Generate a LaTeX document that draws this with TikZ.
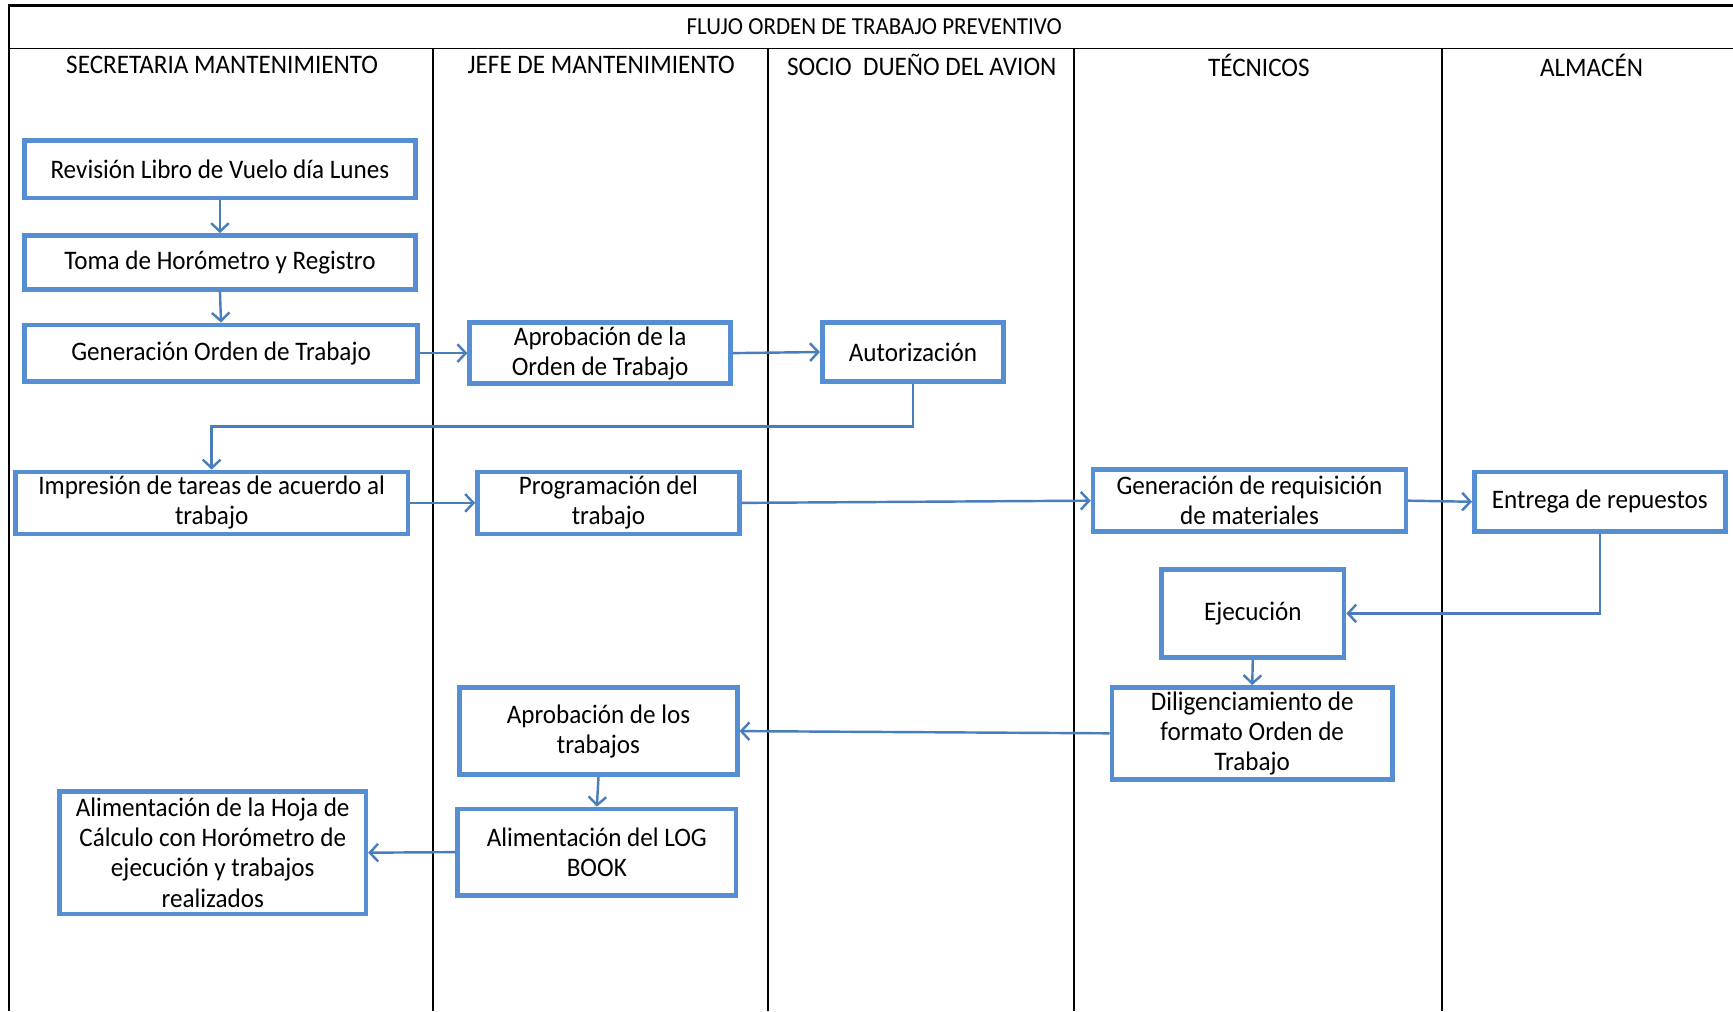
\documentclass[tikz,border=0pt]{standalone}
\usepackage{fontspec}
\setmainfont[FakeStretch=0.94]{Carlito}
\usetikzlibrary{arrows.meta}
\definecolor{boxblue}{RGB}{86,142,212}
\definecolor{lineblue}{RGB}{74,126,187}
\tikzset{
  box/.style={draw=boxblue, line width=4.2pt, fill=white, align=center, inner sep=2pt,
    font=\fontsize{24.2}{27.3}\selectfont},
  conn/.style={draw=lineblue, line width=2.2pt, -{Straight Barb[length=7.5pt,width=16pt]}},
  lane/.style={draw=black, line width=1.5pt},
  ttl/.style={font=\fontsize{24.2}{27}\selectfont, inner sep=0pt},
  mainttl/.style={font=\fontsize{22.1}{26}\selectfont, inner sep=0pt}
}
\begin{document}
\begin{tikzpicture}[x=1pt,y=-1pt]
\useasboundingbox[fill=white] (0,0) rectangle (1568,915);
% frame and lanes
\draw[lane, line width=2pt] (8,915) -- (8,5) -- (1568,5);
\draw[lane] (8,44) -- (1568,44);
\draw[lane] (392,44) -- (392,915);
\draw[lane, line width=2.2pt] (695,44) -- (695,915);
\draw[lane] (972,44) -- (972,915);
\draw[lane, line width=2pt] (1305,44) -- (1305,915);
\node[mainttl] (title) at (791,24) {FLUJO ORDEN DE TRABAJO PREVENTIVO};
\node[ttl] (h1) at (201,59) {SECRETARIA MANTENIMIENTO};
\node[ttl] (h2) at (544,59) {JEFE DE MANTENIMIENTO};
\node[ttl] (h3) at (834,59) {SOCIO\ \ DUEÑO DEL AVION};
\node[ttl] (h4) at (1139,59) {TÉCNICOS};
\node[ttl] (h5) at (1440,59) {ALMACÉN};
% boxes
\node[box, minimum width=354, minimum height=52] (rev) at (199,153) {Revisión Libro de Vuelo día Lunes};
\node[box, minimum width=354, minimum height=49] (toma) at (199,237.5) {Toma de Horómetro y Registro};
\node[box, minimum width=356, minimum height=51] (gen) at (200,319.5) {Generación Orden de Trabajo};
\node[box, minimum width=236, minimum height=55] (aprob) at (543,319.5) {Aprobación de la\\Orden de Trabajo};
\node[box, minimum width=164, minimum height=53] (aut) at (826,318.5) {Autorización};
\node[box, minimum width=355, minimum height=56] (imp) at (191.5,455) {Impresión de tareas de acuerdo al\\trabajo};
\node[box, minimum width=237, minimum height=56] (prog) at (550.5,455) {Programación del\\trabajo};
\node[box, minimum width=283, minimum height=56] (req) at (1130.5,453) {Generación de requisición\\de materiales};
\node[box, minimum width=227, minimum height=54] (ent) at (1447.5,454) {Entrega de repuestos};
\node[box, minimum width=165, minimum height=80] (eje) at (1133.5,555) {Ejecución};
\node[box, minimum width=254, minimum height=83] (dil) at (1133,663.5) {Diligenciamiento de\\formato Orden de\\Trabajo};
\node[box, minimum width=251, minimum height=79] (aprt) at (541.5,661.5) {Aprobación de los\\trabajos};
\node[box, minimum width=252, minimum height=78] (log) at (540,771) {Alimentación del LOG\\BOOK};
\node[box, minimum width=277, minimum height=111] (hoja) at (192.5,771.5) {Alimentación de la Hoja de\\Cálculo con Horómetro de\\ejecución y trabajos\\realizados};
% connectors
\coordinate (k1) at (500,386);
\draw[conn] (rev.south) -- (toma.north);
\draw[conn] (toma.south) -- (gen.north);
\draw[conn] (gen.east) -- (aprob.west);
\draw[conn] (aprob.east) -- (aut.west);
\draw[conn] (aut.south) |- (k1) -| (imp.north);
\draw[conn] (imp.east) -- (prog.west);
\draw[conn] (prog.east) -- (req.west);
\draw[conn] (req.east) -- (ent.west);
\draw[conn] (ent.south) |- (eje.east);
\draw[conn] (eje.south) -- (dil.north);
\draw[conn] (dil.west) -- (aprt.east);
\draw[conn] (aprt.south) -- (log.north);
\draw[conn] (log.west) -- (hoja.east);
\end{tikzpicture}
\end{document}
